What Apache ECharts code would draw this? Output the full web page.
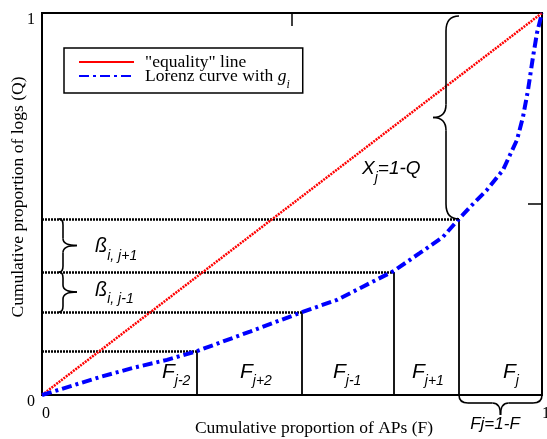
<!DOCTYPE html>
<html><head><meta charset="utf-8">
<script src="https://cdn.jsdelivr.net/npm/echarts@6/dist/echarts.min.js"></script>
<style>html,body{margin:0;padding:0;background:#fff}#c{width:547px;height:439px}</style>
</head><body><div id="c"></div>
<script>
// ---------- data ----------
const equalityF = [0, 1];
const equalityQ = [0, 1];
const curveF = [0, 0.116, 0.182, 0.25, 0.31, 0.416, 0.52, 0.59, 0.656, 0.704, 0.756, 0.802, 0.834, 0.856, 0.89, 0.922, 0.95, 0.962, 0.972, 0.982, 0.99, 1];
const curveQ = [0, 0.047, 0.071, 0.092, 0.115, 0.166, 0.217, 0.249, 0.293, 0.325, 0.372, 0.414, 0.461, 0.492, 0.537, 0.589, 0.668, 0.728, 0.798, 0.885, 0.948, 1];
const stepF = [0.31, 0.52, 0.704, 0.834];
const stepQ = [0.115, 0.217, 0.322, 0.461];
const xTicks = [0, 1];
const yTicks = [0, 1];
const xAxisTitle = 'Cumulative proportion of APs (F)';
const yAxisTitle = 'Cumulative proportion of logs (Q)';
const legendNames = ['"equality" line', 'Lorenz curve with gi'];
// braces: [F1, Q1, F2, Q2]
const braceSpans = [
  [0.034, 0.461, 0.034, 0.322],
  [0.034, 0.322, 0.034, 0.217],
  [0.834, 0.992, 0.834, 0.461],
  [0.834, 0, 1, 0]
];
// annotation labels: text + anchor [F, Q]
const annoTexts = [
  '{m|F}{s|j-2}', '{m|F}{s|j+2}', '{m|F}{s|j-1}', '{m|F}{s|j+1}', '{m|F}{s|j}',
  '{b|ß}{s|i, j+1}', '{b|ß}{s|i, j-1}', '{x|X}{s|j}{x|=1-Q}', '{f|Fj=1-F}'
];
const annoF = [0.24, 0.396, 0.582, 0.74, 0.922, 0.106, 0.106, 0.64, 0.906];
const annoQ = [0.06, 0.06, 0.06, 0.06, 0.06, 0.388, 0.275, 0.592, -0.076];

// ---------- styles ----------
const SERIF = 'Liberation Serif';
const SANS = 'Liberation Sans';
const braceStyle = [
  {n: [1, 0], r: 4, d: 18, a: 6, b: 7},
  {n: [1, 0], r: 4, d: 18, a: 6, b: 7},
  {n: [-1, 0], r: 13, d: 26, a: 15, b: 13},
  {n: [0, 1], r: 8, d: 20, a: 9, b: 8}
];
const annoAlign = ['left','left','left','left','left','left','left','left','center'];

const chart = echarts.init(document.getElementById('c'), null, {renderer: 'canvas'});

function braceRender(params, api) {
  const st = braceStyle[params.dataIndex];
  const p1 = api.coord([api.value(0), api.value(1)]);
  const p2 = api.coord([api.value(2), api.value(3)]);
  const dx = p2[0] - p1[0], dy = p2[1] - p1[1];
  const L = Math.sqrt(dx * dx + dy * dy);
  const t = [dx / L, dy / L];
  const n = st.n;
  const P = (u, v) => [p1[0] + u * t[0] + v * n[0], p1[1] + u * t[1] + v * n[1]];
  const {r, d, a, b} = st;
  const h = L / 2;
  const q = (s, c, e) => {
    const S = P(s[0], s[1]), C = P(c[0], c[1]), E = P(e[0], e[1]);
    return {type: 'bezierCurve', shape: {x1: S[0], y1: S[1], cpx1: C[0], cpy1: C[1], x2: E[0], y2: E[1]},
      style: {stroke: '#000', lineWidth: 1.6, fill: null}};
  };
  const l = (s, e) => {
    const S = P(s[0], s[1]), E = P(e[0], e[1]);
    return {type: 'line', shape: {x1: S[0], y1: S[1], x2: E[0], y2: E[1]}, style: {stroke: '#000', lineWidth: 1.6}};
  };
  return {type: 'group', children: [
    q([0, 0], [0, r], [a, r]),
    l([a, r], [h - b, r]),
    q([h - b, r], [h, r], [h, d]),
    q([h, d], [h, r], [h + b, r]),
    l([h + b, r], [L - a, r]),
    q([L - a, r], [L, r], [L, 0])
  ]};
}

const richAnno = {
  m: {fontFamily: SANS, fontStyle: 'italic', fontSize: 21, lineHeight: 32, verticalAlign: 'middle', color: '#000'},
  b: {fontFamily: SANS, fontStyle: 'italic', fontSize: 20, lineHeight: 32, verticalAlign: 'middle', color: '#000'},
  x: {fontFamily: SANS, fontStyle: 'italic', fontSize: 19, lineHeight: 32, verticalAlign: 'middle', color: '#000'},
  s: {fontFamily: SANS, fontStyle: 'italic', fontSize: 14, lineHeight: 12, verticalAlign: 'bottom', color: '#000'},
  f: {fontFamily: SANS, fontStyle: 'italic', fontSize: 17, lineHeight: 20, verticalAlign: 'middle', color: '#000'}
};

function annoRender(params, api) {
  const p = api.coord([api.value(0), api.value(1)]);
  return {type: 'text', x: p[0], y: p[1], style: {
    text: annoTexts[params.dataIndex], rich: richAnno,
    align: annoAlign[params.dataIndex], verticalAlign: 'middle', fill: '#000'
  }};
}

const option = {
  animation: false,
  backgroundColor: '#fff',
  grid: {left: 42, right: 5, top: 13, bottom: 44, containLabel: false, outerBoundsMode: 'none',
    show: true, borderColor: '#000', borderWidth: 2, backgroundColor: 'transparent'},
  legend: {
    left: 64, top: 48, orient: 'vertical', padding: [5, 13, 2, 14], itemGap: -4,
    itemWidth: 55, itemHeight: 14, borderColor: '#000', borderWidth: 1.5, backgroundColor: '#fff',
    itemStyle: {opacity: 0},
    data: [{name: legendNames[0], lineStyle: {type: 'solid', width: 2}}, {name: legendNames[1]}],
    formatter: name => name === legendNames[1] ? 'Lorenz curve with {g|g}{i|i}' : name,
    textStyle: {fontFamily: SERIF, fontSize: 17.5, color: '#000', lineHeight: 14, padding: [0, 0, 0, 6],
      rich: {
        g: {fontFamily: SERIF, fontStyle: 'italic', fontSize: 17.5, lineHeight: 14, verticalAlign: 'middle', color: '#000'},
        i: {fontFamily: SERIF, fontStyle: 'italic', fontSize: 12, lineHeight: 4, verticalAlign: 'top', padding: [10, 0, 0, 0], color: '#000'}
      }}
  },
  xAxis: [{
    type: 'value', min: 0, max: 1, interval: 1,
    name: xAxisTitle, nameLocation: 'middle', nameGap: 24, nameMoveOverlap: false,
    nameTextStyle: {fontFamily: SERIF, fontSize: 17.5, color: '#000', padding: [0, 0, 0, 44]},
    axisLine: {show: true, onZero: false, lineStyle: {color: '#000', width: 2}},
    axisTick: {show: false}, splitLine: {show: false},
    axisLabel: {align: 'left', margin: 11, fontFamily: SERIF, fontSize: 16, color: '#000',
      formatter: v => String(xTicks[xTicks.indexOf(v)])}
  }, {
    type: 'value', position: 'top', min: 0, max: 1, interval: 0.5,
    axisLine: {show: false, onZero: false}, axisTick: {show: true, inside: true, length: 13, lineStyle: {color: '#000', width: 1.5}},
    axisLabel: {show: false}, splitLine: {show: false}
  }],
  yAxis: [{
    type: 'value', min: 0, max: 1, interval: 1,
    name: yAxisTitle, nameLocation: 'middle', nameGap: 15, nameMoveOverlap: false,
    nameTextStyle: {fontFamily: SERIF, fontSize: 17.5, color: '#000', padding: [0, 0, 0, 14]},
    axisLine: {show: true, onZero: false, lineStyle: {color: '#000', width: 2}},
    axisTick: {show: false}, splitLine: {show: false},
    axisLabel: {margin: 7, fontFamily: SERIF, fontSize: 16, color: '#000', verticalAlign: 'top', lineHeight: 14,
      formatter: v => String(yTicks[yTicks.indexOf(v)])}
  }, {
    type: 'value', position: 'right', min: 0, max: 1, interval: 0.5,
    axisLine: {show: false, onZero: false}, axisTick: {show: true, inside: true, length: 14, lineStyle: {color: '#000', width: 1.5}},
    axisLabel: {show: false}, splitLine: {show: false}
  }],
  series: [
    {
      type: 'lines', coordinateSystem: 'cartesian2d', silent: true, z: 2,
      data: stepF.map((f, i) => ({coords: [[0, stepQ[i]], [f, stepQ[i]]]})),
      lineStyle: {color: '#000', width: 2.5, type: [2, 1], opacity: 1, curveness: 0}
    },
    {
      type: 'lines', coordinateSystem: 'cartesian2d', silent: true, z: 2,
      data: stepF.map((f, i) => ({coords: [[f, stepQ[i]], [f, 0]]})),
      lineStyle: {color: '#000', width: 1.8, type: 'solid', opacity: 1, curveness: 0}
    },
    {
      name: legendNames[0], type: 'line', symbol: 'none', z: 3,
      data: equalityF.map((f, i) => [f, equalityQ[i]]),
      lineStyle: {color: '#ff0000', width: 2.5, type: [2, 1]}, itemStyle: {color: '#ff0000'}
    },
    {
      name: legendNames[1], type: 'line', symbol: 'none', z: 4,
      data: curveF.map((f, i) => [f, curveQ[i]]),
      lineStyle: {color: '#0000ff', width: 4, type: [10, 4, 3, 4]}, itemStyle: {color: '#0000ff'}
    },
    {
      type: 'custom', silent: true, z: 5, renderItem: braceRender,
      data: braceSpans
    },
    {
      type: 'custom', silent: true, z: 6, renderItem: annoRender,
      data: annoF.map((f, i) => [f, annoQ[i]])
    }
  ]
};
chart.setOption(option);
</script>
</body></html>
